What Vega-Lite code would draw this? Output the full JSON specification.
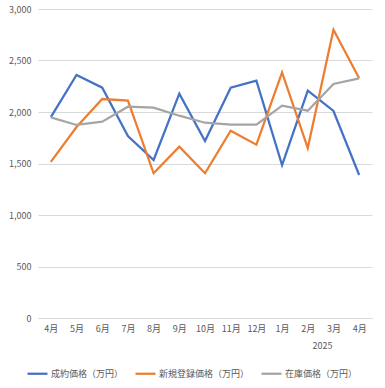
{
  "$schema": "https://vega.github.io/schema/vega-lite/v6.json",
  "width": 334,
  "height": 309,
  "padding": {"left": 8, "top": 5, "right": 13, "bottom": 5},
  "config": {
    "font": "Noto Sans CJK JP",
    "view": {"stroke": null},
    "axis": {"labelColor": "#595959", "labelFontSize": 9, "titleColor": "#595959"}
  },
  "data": {
    "values": [
      {"ym": "2024-04", "series": "成約価格（万円）", "value": 1951},
      {"ym": "2024-05", "series": "成約価格（万円）", "value": 2359},
      {"ym": "2024-06", "series": "成約価格（万円）", "value": 2236},
      {"ym": "2024-07", "series": "成約価格（万円）", "value": 1767},
      {"ym": "2024-08", "series": "成約価格（万円）", "value": 1534},
      {"ym": "2024-09", "series": "成約価格（万円）", "value": 2178},
      {"ym": "2024-10", "series": "成約価格（万円）", "value": 1718},
      {"ym": "2024-11", "series": "成約価格（万円）", "value": 2236},
      {"ym": "2024-12", "series": "成約価格（万円）", "value": 2304},
      {"ym": "2025-01", "series": "成約価格（万円）", "value": 1485},
      {"ym": "2025-02", "series": "成約価格（万円）", "value": 2207},
      {"ym": "2025-03", "series": "成約価格（万円）", "value": 2010},
      {"ym": "2025-04", "series": "成約価格（万円）", "value": 1388},
      {"ym": "2024-04", "series": "新規登録価格（万円）", "value": 1515},
      {"ym": "2024-05", "series": "新規登録価格（万円）", "value": 1854},
      {"ym": "2024-06", "series": "新規登録価格（万円）", "value": 2126},
      {"ym": "2024-07", "series": "新規登録価格（万円）", "value": 2110},
      {"ym": "2024-08", "series": "新規登録価格（万円）", "value": 1405},
      {"ym": "2024-09", "series": "新規登録価格（万円）", "value": 1663},
      {"ym": "2024-10", "series": "新規登録価格（万円）", "value": 1405},
      {"ym": "2024-11", "series": "新規登録価格（万円）", "value": 1819},
      {"ym": "2024-12", "series": "新規登録価格（万円）", "value": 1683},
      {"ym": "2025-01", "series": "新規登録価格（万円）", "value": 2385},
      {"ym": "2025-02", "series": "新規登録価格（万円）", "value": 1650},
      {"ym": "2025-03", "series": "新規登録価格（万円）", "value": 2799},
      {"ym": "2025-04", "series": "新規登録価格（万円）", "value": 2327},
      {"ym": "2024-04", "series": "在庫価格（万円）", "value": 1948},
      {"ym": "2024-05", "series": "在庫価格（万円）", "value": 1874},
      {"ym": "2024-06", "series": "在庫価格（万円）", "value": 1906},
      {"ym": "2024-07", "series": "在庫価格（万円）", "value": 2051},
      {"ym": "2024-08", "series": "在庫価格（万円）", "value": 2042},
      {"ym": "2024-09", "series": "在庫価格（万円）", "value": 1964},
      {"ym": "2024-10", "series": "在庫価格（万円）", "value": 1896},
      {"ym": "2024-11", "series": "在庫価格（万円）", "value": 1877},
      {"ym": "2024-12", "series": "在庫価格（万円）", "value": 1877},
      {"ym": "2025-01", "series": "在庫価格（万円）", "value": 2061},
      {"ym": "2025-02", "series": "在庫価格（万円）", "value": 2013},
      {"ym": "2025-03", "series": "在庫価格（万円）", "value": 2272},
      {"ym": "2025-04", "series": "在庫価格（万円）", "value": 2327}
    ]
  },
  "mark": {"type": "line", "strokeWidth": 2.25},
  "encoding": {
    "x": {
      "field": "ym",
      "type": "ordinal",
      "scale": {"type": "point", "padding": 0.5},
      "axis": {
        "title": "2025",
        "titleFontSize": 9,
        "titleFontWeight": "normal",
        "titleX": 284,
        "titleAnchor": "middle",
        "titlePadding": 8,
        "labelAngle": 0,
        "labelExpr": "toNumber(split(datum.value, '-')[1]) + '月'",
        "ticks": false,
        "domainColor": "#d9d9d9",
        "labelPadding": 6
      }
    },
    "y": {
      "field": "value",
      "type": "quantitative",
      "scale": {"domain": [0, 3000]},
      "axis": {
        "title": null,
        "values": [0, 500, 1000, 1500, 2000, 2500, 3000],
        "format": ",d",
        "gridColor": "#d9d9d9",
        "domain": false,
        "ticks": false,
        "labelPadding": 7
      }
    },
    "color": {
      "field": "series",
      "type": "nominal",
      "scale": {
        "domain": ["成約価格（万円）", "新規登録価格（万円）", "在庫価格（万円）"],
        "range": ["#4472C4", "#ED7D31", "#A5A5A5"]
      },
      "legend": {
        "title": null,
        "orient": "none",
        "legendX": -12,
        "legendY": 353,
        "direction": "horizontal",
        "symbolType": "stroke",
        "symbolStrokeWidth": 2.25,
        "symbolSize": 400,
        "labelFontSize": 9,
        "labelOffset": 2,
        "labelColor": "#595959",
        "columnPadding": 7
      }
    }
  }
}
